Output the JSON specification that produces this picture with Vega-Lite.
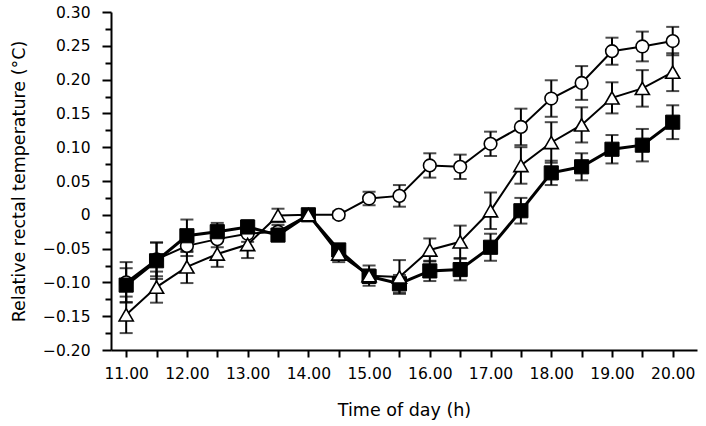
{
  "$schema": "https://vega.github.io/schema/vega-lite/v6.json",
  "width": 586,
  "height": 338,
  "autosize": "none",
  "padding": {"left": 111, "top": 12, "right": 9, "bottom": 76},
  "background": "white",
  "config": {
    "view": {"stroke": null},
    "font": "DejaVu Sans",
    "axis": {
      "grid": false,
      "domainColor": "black",
      "domainWidth": 2,
      "tickColor": "black",
      "tickWidth": 2,
      "labelColor": "black",
      "labelFont": "DejaVu Sans",
      "labelFontSize": 15.5,
      "titleFont": "DejaVu Sans",
      "titleFontSize": 17.5,
      "titleFontWeight": "normal",
      "titleColor": "black",
      "labelFlush": false,
      "labelOverlap": false
    }
  },
  "data": {
    "values": [
      {"t": 11.0, "g": "c", "v": -0.100, "se": 0.030},
      {"t": 11.5, "g": "c", "v": -0.066, "se": 0.025},
      {"t": 12.0, "g": "c", "v": -0.046, "se": 0.015},
      {"t": 12.5, "g": "c", "v": -0.036, "se": 0.012},
      {"t": 13.0, "g": "c", "v": -0.028, "se": 0.012},
      {"t": 13.5, "g": "c", "v": -0.025, "se": 0.010},
      {"t": 14.0, "g": "c", "v": 0.000, "se": 0.000},
      {"t": 14.5, "g": "c", "v": 0.000, "se": 0.005},
      {"t": 15.0, "g": "c", "v": 0.024, "se": 0.010},
      {"t": 15.5, "g": "c", "v": 0.028, "se": 0.016},
      {"t": 16.0, "g": "c", "v": 0.073, "se": 0.018},
      {"t": 16.5, "g": "c", "v": 0.071, "se": 0.018},
      {"t": 17.0, "g": "c", "v": 0.105, "se": 0.018},
      {"t": 17.5, "g": "c", "v": 0.130, "se": 0.027},
      {"t": 18.0, "g": "c", "v": 0.172, "se": 0.027},
      {"t": 18.5, "g": "c", "v": 0.195, "se": 0.025},
      {"t": 19.0, "g": "c", "v": 0.242, "se": 0.020},
      {"t": 19.5, "g": "c", "v": 0.249, "se": 0.022},
      {"t": 20.0, "g": "c", "v": 0.257, "se": 0.021},
      {"t": 11.0, "g": "s", "v": -0.104, "se": 0.025},
      {"t": 11.5, "g": "s", "v": -0.068, "se": 0.027},
      {"t": 12.0, "g": "s", "v": -0.031, "se": 0.024},
      {"t": 12.5, "g": "s", "v": -0.025, "se": 0.013},
      {"t": 13.0, "g": "s", "v": -0.018, "se": 0.010},
      {"t": 13.5, "g": "s", "v": -0.030, "se": 0.008},
      {"t": 14.0, "g": "s", "v": 0.000, "se": 0.000},
      {"t": 14.5, "g": "s", "v": -0.052, "se": 0.008},
      {"t": 15.0, "g": "s", "v": -0.091, "se": 0.010},
      {"t": 15.5, "g": "s", "v": -0.102, "se": 0.013},
      {"t": 16.0, "g": "s", "v": -0.083, "se": 0.015},
      {"t": 16.5, "g": "s", "v": -0.081, "se": 0.016},
      {"t": 17.0, "g": "s", "v": -0.048, "se": 0.020},
      {"t": 17.5, "g": "s", "v": 0.006, "se": 0.019},
      {"t": 18.0, "g": "s", "v": 0.062, "se": 0.018},
      {"t": 18.5, "g": "s", "v": 0.071, "se": 0.020},
      {"t": 19.0, "g": "s", "v": 0.097, "se": 0.021},
      {"t": 19.5, "g": "s", "v": 0.103, "se": 0.024},
      {"t": 20.0, "g": "s", "v": 0.137, "se": 0.025},
      {"t": 11.0, "g": "t", "v": -0.148, "se": 0.027},
      {"t": 11.5, "g": "t", "v": -0.107, "se": 0.023},
      {"t": 12.0, "g": "t", "v": -0.077, "se": 0.024},
      {"t": 12.5, "g": "t", "v": -0.058, "se": 0.019},
      {"t": 13.0, "g": "t", "v": -0.044, "se": 0.020},
      {"t": 13.5, "g": "t", "v": -0.001, "se": 0.010},
      {"t": 14.0, "g": "t", "v": 0.000, "se": 0.000},
      {"t": 14.5, "g": "t", "v": -0.058, "se": 0.012},
      {"t": 15.0, "g": "t", "v": -0.090, "se": 0.015},
      {"t": 15.5, "g": "t", "v": -0.092, "se": 0.025},
      {"t": 16.0, "g": "t", "v": -0.052, "se": 0.017},
      {"t": 16.5, "g": "t", "v": -0.040, "se": 0.024},
      {"t": 17.0, "g": "t", "v": 0.006, "se": 0.027},
      {"t": 17.5, "g": "t", "v": 0.073, "se": 0.027},
      {"t": 18.0, "g": "t", "v": 0.107, "se": 0.030},
      {"t": 18.5, "g": "t", "v": 0.133, "se": 0.026},
      {"t": 19.0, "g": "t", "v": 0.173, "se": 0.023},
      {"t": 19.5, "g": "t", "v": 0.187, "se": 0.027},
      {"t": 20.0, "g": "t", "v": 0.211, "se": 0.028}
    ]
  },
  "encoding": {
    "x": {
      "field": "t",
      "type": "quantitative",
      "title": "Time of day (h)",
      "scale": {"domain": [10.75, 20.4], "nice": false, "zero": false},
      "axis": {
        "values": [11, 11.5, 12, 12.5, 13, 13.5, 14, 14.5, 15, 15.5, 16, 16.5, 17, 17.5, 18, 18.5, 19, 19.5, 20],
        "labelExpr": "datum.value % 1 == 0 ? format(datum.value, '.2f') : ''",
        "tickSize": 7,
        "labelPadding": 9,
        "titlePadding": 20
      }
    },
    "y": {
      "field": "v",
      "type": "quantitative",
      "title": "Relative rectal temperature (°C)",
      "scale": {"domain": [-0.2, 0.3], "nice": false, "zero": false},
      "axis": {
        "values": [-0.2, -0.175, -0.15, -0.125, -0.1, -0.075, -0.05, -0.025, 0, 0.025, 0.05, 0.075, 0.1, 0.125, 0.15, 0.175, 0.2, 0.225, 0.25, 0.275, 0.3],
        "labelExpr": "abs(datum.value * 20 - round(datum.value * 20)) < 0.001 ? (datum.value == 0 ? '0' : format(datum.value, '.2f')) : ''",
        "tickSize": {"condition": {"test": "abs(datum.value * 20 - round(datum.value * 20)) < 0.001", "value": 9}, "value": 6},
        "labelPadding": 12,
        "titlePadding": 14
      }
    }
  },
  "layer": [
    {
      "data": {"values": [{}]},
      "mark": {"type": "rule", "color": "black", "strokeWidth": 1},
      "encoding": {
        "x": {"datum": 10.75},
        "x2": {"datum": 20.27},
        "y": {"datum": 0}
      }
    },
    {
      "mark": {"type": "errorbar", "ticks": true, "size": 13, "thickness": 2, "color": "black"},
      "encoding": {"yError": {"field": "se"}}
    },
    {
      "transform": [{"filter": "datum.g == 'c'"}],
      "mark": {"type": "line", "color": "black", "strokeWidth": 2},
      "encoding": {}
    },
    {
      "transform": [{"filter": "datum.g == 't'"}],
      "mark": {"type": "line", "color": "black", "strokeWidth": 2},
      "encoding": {}
    },
    {
      "transform": [{"filter": "datum.g == 's'"}],
      "mark": {"type": "line", "color": "black", "strokeWidth": 3},
      "encoding": {}
    },
    {
      "transform": [{"filter": "datum.g == 'c'"}],
      "mark": {"type": "point", "shape": "circle", "filled": true, "fill": "white", "stroke": "black", "strokeWidth": 1.6, "size": 160, "opacity": 1},
      "encoding": {}
    },
    {
      "transform": [{"filter": "datum.g == 's'"}],
      "mark": {"type": "point", "shape": "square", "filled": true, "fill": "black", "stroke": "black", "strokeWidth": 1, "size": 200, "opacity": 1},
      "encoding": {}
    },
    {
      "transform": [{"filter": "datum.g == 't'"}],
      "mark": {"type": "point", "shape": "triangle-up", "filled": true, "fill": "white", "stroke": "black", "strokeWidth": 1.6, "size": 200, "opacity": 1},
      "encoding": {}
    }
  ]
}
